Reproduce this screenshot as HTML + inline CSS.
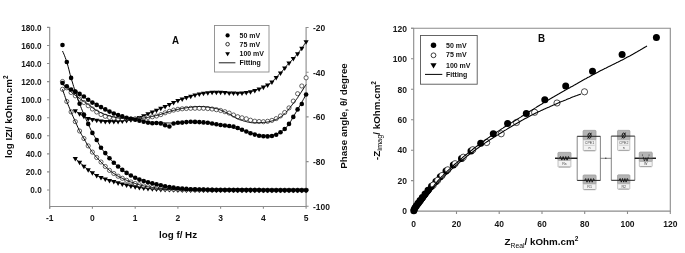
<!DOCTYPE html>
<html><head><meta charset="utf-8"><style>
html,body{margin:0;padding:0;background:#fff;}
svg{display:block;filter:blur(0.3px);font-family:"Liberation Sans",sans-serif;font-weight:bold;}
</style></head><body>
<svg width="685" height="253" viewBox="0 0 685 253">
<rect width="685" height="253" fill="#fff"/>
<g stroke="#8c8c8c" stroke-width="1.1" fill="none">
<path d="M49.7 27V208.8M49.7 206.5H306.1V27"/>
<path d="M413.7 28.3V211.1H670.3V28.3H411"/>
<path d="M47 190H49.7 M47 171.9H49.7 M47 153.9H49.7 M47 135.8H49.7 M47 117.7H49.7 M47 99.7H49.7 M47 81.6H49.7 M47 63.5H49.7 M47 45.5H49.7 M47 27.4H49.7 M306.1 27.5H308.6 M306.1 72.2H308.6 M306.1 116.9H308.6 M306.1 161.6H308.6 M306.1 206.3H308.6 M49.7 206.5V208.8 M92.4 206.5V208.8 M135.2 206.5V208.8 M177.9 206.5V208.8 M220.6 206.5V208.8 M263.4 206.5V208.8 M306.1 206.5V208.8 M411 211.1H413.7 M413.7 211.1V214 M411 180.6H413.7 M456.5 211.1V214 M411 150.2H413.7 M499.2 211.1V214 M411 119.7H413.7 M542 211.1V214 M411 89.3H413.7 M584.7 211.1V214 M411 58.8H413.7 M627.5 211.1V214 M411 28.3H413.7 M670.3 211.1V214"/>
</g>
<g fill="#161616" font-size="8.2" text-anchor="end"><text x="41.7" y="193.4">0.0</text><text x="41.7" y="175.3">20.0</text><text x="41.7" y="157.2">40.0</text><text x="41.7" y="139.2">60.0</text><text x="41.7" y="121.1">80.0</text><text x="41.7" y="103">100.0</text><text x="41.7" y="85">120.0</text><text x="41.7" y="66.9">140.0</text><text x="41.7" y="48.8">160.0</text><text x="41.7" y="30.8">180.0</text></g>
<g fill="#161616" font-size="8.5" text-anchor="start"><text x="312.9" y="30.9">-20</text><text x="312.9" y="75.7">-40</text><text x="312.9" y="120.4">-60</text><text x="312.9" y="165.1">-80</text><text x="312.9" y="209.8">-100</text></g>
<g fill="#161616" font-size="8.5" text-anchor="middle"><text x="49.7" y="221.2">-1</text><text x="92.4" y="221.2">0</text><text x="135.2" y="221.2">1</text><text x="177.9" y="221.2">2</text><text x="220.6" y="221.2">3</text><text x="263.4" y="221.2">4</text><text x="306.1" y="221.2">5</text></g>
<g fill="#161616" font-size="8.5" text-anchor="end"><text x="407" y="214.3">0</text><text x="407" y="183.9">20</text><text x="407" y="153.4">40</text><text x="407" y="123">60</text><text x="407" y="92.5">80</text><text x="407" y="62.1">100</text><text x="407" y="31.6">120</text></g>
<g fill="#161616" font-size="8.5" text-anchor="middle"><text x="413.7" y="226.9">0</text><text x="456.5" y="226.9">20</text><text x="499.2" y="226.9">40</text><text x="542" y="226.9">60</text><text x="584.7" y="226.9">80</text><text x="627.5" y="226.9">100</text><text x="670.3" y="226.9">120</text></g>
<g fill="#000">
<path d="M72.7 157.1H77.9L75.3 161.6Z"/>
<path d="M77 160.8H82.2L79.6 165.3Z"/>
<path d="M81.3 164.7H86.5L83.9 169.2Z"/>
<path d="M85.6 168.3H90.8L88.2 172.8Z"/>
<path d="M89.8 171.3H95L92.4 175.8Z"/>
<path d="M94.1 174H99.3L96.7 178.5Z"/>
<path d="M98.4 175.9H103.6L101 180.4Z"/>
<path d="M102.7 177.5H107.9L105.3 182Z"/>
<path d="M106.9 178.9H112.1L109.5 183.4Z"/>
<path d="M111.2 180.1H116.4L113.8 184.6Z"/>
<path d="M115.5 181.3H120.7L118.1 185.9Z"/>
<path d="M119.7 182.5H124.9L122.3 187Z"/>
<path d="M124 183.5H129.2L126.6 188Z"/>
<path d="M128.3 184.4H133.5L130.9 188.9Z"/>
<path d="M132.6 185.3H137.8L135.2 189.8Z"/>
<path d="M136.8 186H142L139.4 190.5Z"/>
<path d="M141.1 186.6H146.3L143.7 191.1Z"/>
<path d="M145.4 187H150.6L148 191.5Z"/>
<path d="M149.7 187.3H154.9L152.3 191.8Z"/>
<path d="M153.9 187.6H159.1L156.5 192.1Z"/>
<path d="M158.2 187.8H163.4L160.8 192.4Z"/>
<path d="M162.5 188H167.7L165.1 192.5Z"/>
<path d="M166.8 188.1H172L169.4 192.6Z"/>
<path d="M171 188.2H176.2L173.6 192.8Z"/>
<path d="M175.3 188.3H180.5L177.9 192.9Z"/>
<path d="M179.6 188.4H184.8L182.2 192.9Z"/>
<path d="M183.8 188.5H189L186.4 193Z"/>
<path d="M188.1 188.5H193.3L190.7 193Z"/>
<path d="M192.4 188.5H197.6L195 193Z"/>
<path d="M196.7 188.5H201.9L199.3 193Z"/>
<path d="M200.9 188.5H206.1L203.5 193.1Z"/>
<path d="M205.2 188.6H210.4L207.8 193.1Z"/>
<path d="M209.5 188.6H214.7L212.1 193.1Z"/>
<path d="M213.8 188.6H219L216.4 193.1Z"/>
<path d="M218 188.6H223.2L220.6 193.1Z"/>
<path d="M222.3 188.6H227.5L224.9 193.1Z"/>
<path d="M226.6 188.6H231.8L229.2 193.1Z"/>
<path d="M230.9 188.6H236.1L233.5 193.1Z"/>
<path d="M235.1 188.6H240.3L237.7 193.2Z"/>
<path d="M239.4 188.6H244.6L242 193.2Z"/>
<path d="M243.7 188.6H248.9L246.3 193.2Z"/>
<path d="M247.9 188.7H253.1L250.5 193.2Z"/>
<path d="M252.2 188.7H257.4L254.8 193.2Z"/>
<path d="M256.5 188.7H261.7L259.1 193.2Z"/>
<path d="M260.8 188.7H266L263.4 193.2Z"/>
<path d="M265 188.7H270.2L267.6 193.2Z"/>
<path d="M269.3 188.7H274.5L271.9 193.2Z"/>
<path d="M273.6 188.7H278.8L276.2 193.2Z"/>
<path d="M277.9 188.7H283.1L280.5 193.2Z"/>
<path d="M282.1 188.7H287.3L284.7 193.2Z"/>
<path d="M286.4 188.7H291.6L289 193.2Z"/>
<path d="M290.7 188.7H295.9L293.3 193.2Z"/>
<path d="M295 188.7H300.2L297.6 193.2Z"/>
<path d="M299.2 188.7H304.4L301.8 193.2Z"/>
<path d="M303.5 188.7H308.7L306.1 193.2Z"/>
<path d="M72.7 109.3H77.9L75.3 113.8Z"/>
<path d="M77 112.2H82.2L79.6 116.7Z"/>
<path d="M81.3 114.8H86.5L83.9 119.3Z"/>
<path d="M85.6 117H90.8L88.2 121.5Z"/>
<path d="M89.8 118.1H95L92.4 122.6Z"/>
<path d="M94.1 118.8H99.3L96.7 123.3Z"/>
<path d="M98.4 119.5H103.6L101 124Z"/>
<path d="M102.7 119.9H107.9L105.3 124.4Z"/>
<path d="M106.9 120.1H112.1L109.5 124.6Z"/>
<path d="M111.2 120.1H116.4L113.8 124.6Z"/>
<path d="M115.5 119.8H120.7L118.1 124.4Z"/>
<path d="M119.7 119.4H124.9L122.3 123.9Z"/>
<path d="M124 118.9H129.2L126.6 123.4Z"/>
<path d="M128.3 118.2H133.5L130.9 122.7Z"/>
<path d="M132.6 117.3H137.8L135.2 121.8Z"/>
<path d="M136.8 116.1H142L139.4 120.6Z"/>
<path d="M141.1 114.3H146.3L143.7 118.8Z"/>
<path d="M145.4 112.3H150.6L148 116.8Z"/>
<path d="M149.7 110.4H154.9L152.3 114.9Z"/>
<path d="M153.9 108.7H159.1L156.5 113.2Z"/>
<path d="M158.2 106.8H163.4L160.8 111.3Z"/>
<path d="M162.5 105H167.7L165.1 109.5Z"/>
<path d="M166.8 102.9H172L169.4 107.5Z"/>
<path d="M171 101H176.2L173.6 105.6Z"/>
<path d="M175.3 98.9H180.5L177.9 103.5Z"/>
<path d="M179.6 97.5H184.8L182.2 102Z"/>
<path d="M183.8 96.1H189L186.4 100.6Z"/>
<path d="M188.1 94.8H193.3L190.7 99.3Z"/>
<path d="M192.4 93.5H197.6L195 98Z"/>
<path d="M196.7 92.4H201.9L199.3 97Z"/>
<path d="M200.9 91.7H206.1L203.5 96.2Z"/>
<path d="M205.2 91.2H210.4L207.8 95.7Z"/>
<path d="M209.5 90.8H214.7L212.1 95.3Z"/>
<path d="M213.8 90.7H219L216.4 95.2Z"/>
<path d="M218 90.7H223.2L220.6 95.3Z"/>
<path d="M222.3 90.9H227.5L224.9 95.4Z"/>
<path d="M226.6 91.4H231.8L229.2 95.9Z"/>
<path d="M230.9 91.6H236.1L233.5 96.1Z"/>
<path d="M235.1 91.7H240.3L237.7 96.2Z"/>
<path d="M239.4 91.6H244.6L242 96.1Z"/>
<path d="M243.7 91.1H248.9L246.3 95.6Z"/>
<path d="M247.9 90.2H253.1L250.5 94.7Z"/>
<path d="M252.2 89H257.4L254.8 93.5Z"/>
<path d="M256.5 87.6H261.7L259.1 92.1Z"/>
<path d="M260.8 85.6H266L263.4 90.2Z"/>
<path d="M265 83.4H270.2L267.6 87.9Z"/>
<path d="M269.3 80.6H274.5L271.9 85.1Z"/>
<path d="M273.6 75.9H278.8L276.2 80.4Z"/>
<path d="M277.9 71.5H283.1L280.5 76.1Z"/>
<path d="M282.1 66.5H287.3L284.7 71Z"/>
<path d="M286.4 61.6H291.6L289 66.1Z"/>
<path d="M290.7 57.1H295.9L293.3 61.6Z"/>
<path d="M295 52.2H300.2L297.6 56.7Z"/>
<path d="M299.2 46.7H304.4L301.8 51.2Z"/>
<path d="M303.5 40.2H308.7L306.1 44.7Z"/>
<circle cx="62.5" cy="89.3" r="2.0999999999999996" fill="#fff" stroke="#000" stroke-width="0.6"/>
<circle cx="66.8" cy="101.5" r="2.0999999999999996" fill="#fff" stroke="#000" stroke-width="0.6"/>
<circle cx="71.1" cy="111.9" r="2.0999999999999996" fill="#fff" stroke="#000" stroke-width="0.6"/>
<circle cx="75.3" cy="121.6" r="2.0999999999999996" fill="#fff" stroke="#000" stroke-width="0.6"/>
<circle cx="79.6" cy="131" r="2.0999999999999996" fill="#fff" stroke="#000" stroke-width="0.6"/>
<circle cx="83.9" cy="138.5" r="2.0999999999999996" fill="#fff" stroke="#000" stroke-width="0.6"/>
<circle cx="88.2" cy="145.9" r="2.0999999999999996" fill="#fff" stroke="#000" stroke-width="0.6"/>
<circle cx="92.4" cy="152.1" r="2.0999999999999996" fill="#fff" stroke="#000" stroke-width="0.6"/>
<circle cx="96.7" cy="157.5" r="2.0999999999999996" fill="#fff" stroke="#000" stroke-width="0.6"/>
<circle cx="101" cy="162" r="2.0999999999999996" fill="#fff" stroke="#000" stroke-width="0.6"/>
<circle cx="105.3" cy="166.5" r="2.0999999999999996" fill="#fff" stroke="#000" stroke-width="0.6"/>
<circle cx="109.5" cy="170.4" r="2.0999999999999996" fill="#fff" stroke="#000" stroke-width="0.6"/>
<circle cx="113.8" cy="173.5" r="2.0999999999999996" fill="#fff" stroke="#000" stroke-width="0.6"/>
<circle cx="118.1" cy="176.2" r="2.0999999999999996" fill="#fff" stroke="#000" stroke-width="0.6"/>
<circle cx="122.3" cy="178.3" r="2.0999999999999996" fill="#fff" stroke="#000" stroke-width="0.6"/>
<circle cx="126.6" cy="180.3" r="2.0999999999999996" fill="#fff" stroke="#000" stroke-width="0.6"/>
<circle cx="130.9" cy="182" r="2.0999999999999996" fill="#fff" stroke="#000" stroke-width="0.6"/>
<circle cx="135.2" cy="183.5" r="2.0999999999999996" fill="#fff" stroke="#000" stroke-width="0.6"/>
<circle cx="139.4" cy="184.8" r="2.0999999999999996" fill="#fff" stroke="#000" stroke-width="0.6"/>
<circle cx="143.7" cy="185.9" r="2.0999999999999996" fill="#fff" stroke="#000" stroke-width="0.6"/>
<circle cx="148" cy="186.8" r="2.0999999999999996" fill="#fff" stroke="#000" stroke-width="0.6"/>
<circle cx="152.3" cy="187.5" r="2.0999999999999996" fill="#fff" stroke="#000" stroke-width="0.6"/>
<circle cx="156.5" cy="188" r="2.0999999999999996" fill="#fff" stroke="#000" stroke-width="0.6"/>
<circle cx="160.8" cy="188.5" r="2.0999999999999996" fill="#fff" stroke="#000" stroke-width="0.6"/>
<circle cx="165.1" cy="188.8" r="2.0999999999999996" fill="#fff" stroke="#000" stroke-width="0.6"/>
<circle cx="169.4" cy="189.1" r="2.0999999999999996" fill="#fff" stroke="#000" stroke-width="0.6"/>
<circle cx="173.6" cy="189.3" r="2.0999999999999996" fill="#fff" stroke="#000" stroke-width="0.6"/>
<circle cx="177.9" cy="189.5" r="2.0999999999999996" fill="#fff" stroke="#000" stroke-width="0.6"/>
<circle cx="182.2" cy="189.6" r="2.0999999999999996" fill="#fff" stroke="#000" stroke-width="0.6"/>
<circle cx="186.4" cy="189.8" r="2.0999999999999996" fill="#fff" stroke="#000" stroke-width="0.6"/>
<circle cx="190.7" cy="189.8" r="2.0999999999999996" fill="#fff" stroke="#000" stroke-width="0.6"/>
<circle cx="195" cy="189.8" r="2.0999999999999996" fill="#fff" stroke="#000" stroke-width="0.6"/>
<circle cx="199.3" cy="189.9" r="2.0999999999999996" fill="#fff" stroke="#000" stroke-width="0.6"/>
<circle cx="203.5" cy="189.9" r="2.0999999999999996" fill="#fff" stroke="#000" stroke-width="0.6"/>
<circle cx="207.8" cy="189.9" r="2.0999999999999996" fill="#fff" stroke="#000" stroke-width="0.6"/>
<circle cx="212.1" cy="190" r="2.0999999999999996" fill="#fff" stroke="#000" stroke-width="0.6"/>
<circle cx="216.4" cy="190" r="2.0999999999999996" fill="#fff" stroke="#000" stroke-width="0.6"/>
<circle cx="220.6" cy="190" r="2.0999999999999996" fill="#fff" stroke="#000" stroke-width="0.6"/>
<circle cx="224.9" cy="190" r="2.0999999999999996" fill="#fff" stroke="#000" stroke-width="0.6"/>
<circle cx="229.2" cy="190" r="2.0999999999999996" fill="#fff" stroke="#000" stroke-width="0.6"/>
<circle cx="233.5" cy="190.1" r="2.0999999999999996" fill="#fff" stroke="#000" stroke-width="0.6"/>
<circle cx="237.7" cy="190.1" r="2.0999999999999996" fill="#fff" stroke="#000" stroke-width="0.6"/>
<circle cx="242" cy="190.1" r="2.0999999999999996" fill="#fff" stroke="#000" stroke-width="0.6"/>
<circle cx="246.3" cy="190.1" r="2.0999999999999996" fill="#fff" stroke="#000" stroke-width="0.6"/>
<circle cx="250.5" cy="190.1" r="2.0999999999999996" fill="#fff" stroke="#000" stroke-width="0.6"/>
<circle cx="254.8" cy="190.1" r="2.0999999999999996" fill="#fff" stroke="#000" stroke-width="0.6"/>
<circle cx="259.1" cy="190.1" r="2.0999999999999996" fill="#fff" stroke="#000" stroke-width="0.6"/>
<circle cx="263.4" cy="190.2" r="2.0999999999999996" fill="#fff" stroke="#000" stroke-width="0.6"/>
<circle cx="267.6" cy="190.2" r="2.0999999999999996" fill="#fff" stroke="#000" stroke-width="0.6"/>
<circle cx="271.9" cy="190.2" r="2.0999999999999996" fill="#fff" stroke="#000" stroke-width="0.6"/>
<circle cx="276.2" cy="190.2" r="2.0999999999999996" fill="#fff" stroke="#000" stroke-width="0.6"/>
<circle cx="280.5" cy="190.2" r="2.0999999999999996" fill="#fff" stroke="#000" stroke-width="0.6"/>
<circle cx="284.7" cy="190.2" r="2.0999999999999996" fill="#fff" stroke="#000" stroke-width="0.6"/>
<circle cx="289" cy="190.2" r="2.0999999999999996" fill="#fff" stroke="#000" stroke-width="0.6"/>
<circle cx="293.3" cy="190.2" r="2.0999999999999996" fill="#fff" stroke="#000" stroke-width="0.6"/>
<circle cx="297.6" cy="190.2" r="2.0999999999999996" fill="#fff" stroke="#000" stroke-width="0.6"/>
<circle cx="301.8" cy="190.2" r="2.0999999999999996" fill="#fff" stroke="#000" stroke-width="0.6"/>
<circle cx="306.1" cy="190.2" r="2.0999999999999996" fill="#fff" stroke="#000" stroke-width="0.6"/>
<circle cx="62.5" cy="81.5" r="2.0999999999999996" fill="#fff" stroke="#000" stroke-width="0.6"/>
<circle cx="66.8" cy="87.8" r="2.0999999999999996" fill="#fff" stroke="#000" stroke-width="0.6"/>
<circle cx="71.1" cy="92.5" r="2.0999999999999996" fill="#fff" stroke="#000" stroke-width="0.6"/>
<circle cx="75.3" cy="95.8" r="2.0999999999999996" fill="#fff" stroke="#000" stroke-width="0.6"/>
<circle cx="79.6" cy="99" r="2.0999999999999996" fill="#fff" stroke="#000" stroke-width="0.6"/>
<circle cx="83.9" cy="102.5" r="2.0999999999999996" fill="#fff" stroke="#000" stroke-width="0.6"/>
<circle cx="88.2" cy="105.7" r="2.0999999999999996" fill="#fff" stroke="#000" stroke-width="0.6"/>
<circle cx="92.4" cy="109" r="2.0999999999999996" fill="#fff" stroke="#000" stroke-width="0.6"/>
<circle cx="96.7" cy="112" r="2.0999999999999996" fill="#fff" stroke="#000" stroke-width="0.6"/>
<circle cx="101" cy="114.5" r="2.0999999999999996" fill="#fff" stroke="#000" stroke-width="0.6"/>
<circle cx="105.3" cy="116.3" r="2.0999999999999996" fill="#fff" stroke="#000" stroke-width="0.6"/>
<circle cx="109.5" cy="117.5" r="2.0999999999999996" fill="#fff" stroke="#000" stroke-width="0.6"/>
<circle cx="113.8" cy="118.3" r="2.0999999999999996" fill="#fff" stroke="#000" stroke-width="0.6"/>
<circle cx="118.1" cy="118.8" r="2.0999999999999996" fill="#fff" stroke="#000" stroke-width="0.6"/>
<circle cx="122.3" cy="119" r="2.0999999999999996" fill="#fff" stroke="#000" stroke-width="0.6"/>
<circle cx="126.6" cy="119" r="2.0999999999999996" fill="#fff" stroke="#000" stroke-width="0.6"/>
<circle cx="130.9" cy="119" r="2.0999999999999996" fill="#fff" stroke="#000" stroke-width="0.6"/>
<circle cx="135.2" cy="118.8" r="2.0999999999999996" fill="#fff" stroke="#000" stroke-width="0.6"/>
<circle cx="139.4" cy="118.5" r="2.0999999999999996" fill="#fff" stroke="#000" stroke-width="0.6"/>
<circle cx="143.7" cy="118" r="2.0999999999999996" fill="#fff" stroke="#000" stroke-width="0.6"/>
<circle cx="148" cy="117.4" r="2.0999999999999996" fill="#fff" stroke="#000" stroke-width="0.6"/>
<circle cx="152.3" cy="116.8" r="2.0999999999999996" fill="#fff" stroke="#000" stroke-width="0.6"/>
<circle cx="156.5" cy="116" r="2.0999999999999996" fill="#fff" stroke="#000" stroke-width="0.6"/>
<circle cx="160.8" cy="114.6" r="2.0999999999999996" fill="#fff" stroke="#000" stroke-width="0.6"/>
<circle cx="165.1" cy="112.8" r="2.0999999999999996" fill="#fff" stroke="#000" stroke-width="0.6"/>
<circle cx="169.4" cy="111.3" r="2.0999999999999996" fill="#fff" stroke="#000" stroke-width="0.6"/>
<circle cx="173.6" cy="110.1" r="2.0999999999999996" fill="#fff" stroke="#000" stroke-width="0.6"/>
<circle cx="177.9" cy="109.3" r="2.0999999999999996" fill="#fff" stroke="#000" stroke-width="0.6"/>
<circle cx="182.2" cy="108.8" r="2.0999999999999996" fill="#fff" stroke="#000" stroke-width="0.6"/>
<circle cx="186.4" cy="108.5" r="2.0999999999999996" fill="#fff" stroke="#000" stroke-width="0.6"/>
<circle cx="190.7" cy="108.3" r="2.0999999999999996" fill="#fff" stroke="#000" stroke-width="0.6"/>
<circle cx="195" cy="108.3" r="2.0999999999999996" fill="#fff" stroke="#000" stroke-width="0.6"/>
<circle cx="199.3" cy="108.3" r="2.0999999999999996" fill="#fff" stroke="#000" stroke-width="0.6"/>
<circle cx="203.5" cy="108.3" r="2.0999999999999996" fill="#fff" stroke="#000" stroke-width="0.6"/>
<circle cx="207.8" cy="108.6" r="2.0999999999999996" fill="#fff" stroke="#000" stroke-width="0.6"/>
<circle cx="212.1" cy="109" r="2.0999999999999996" fill="#fff" stroke="#000" stroke-width="0.6"/>
<circle cx="216.4" cy="109.7" r="2.0999999999999996" fill="#fff" stroke="#000" stroke-width="0.6"/>
<circle cx="220.6" cy="110.5" r="2.0999999999999996" fill="#fff" stroke="#000" stroke-width="0.6"/>
<circle cx="224.9" cy="111.7" r="2.0999999999999996" fill="#fff" stroke="#000" stroke-width="0.6"/>
<circle cx="229.2" cy="113.1" r="2.0999999999999996" fill="#fff" stroke="#000" stroke-width="0.6"/>
<circle cx="233.5" cy="115" r="2.0999999999999996" fill="#fff" stroke="#000" stroke-width="0.6"/>
<circle cx="237.7" cy="116.7" r="2.0999999999999996" fill="#fff" stroke="#000" stroke-width="0.6"/>
<circle cx="242" cy="117.8" r="2.0999999999999996" fill="#fff" stroke="#000" stroke-width="0.6"/>
<circle cx="246.3" cy="118.8" r="2.0999999999999996" fill="#fff" stroke="#000" stroke-width="0.6"/>
<circle cx="250.5" cy="120.2" r="2.0999999999999996" fill="#fff" stroke="#000" stroke-width="0.6"/>
<circle cx="254.8" cy="121.2" r="2.0999999999999996" fill="#fff" stroke="#000" stroke-width="0.6"/>
<circle cx="259.1" cy="121.5" r="2.0999999999999996" fill="#fff" stroke="#000" stroke-width="0.6"/>
<circle cx="263.4" cy="121.7" r="2.0999999999999996" fill="#fff" stroke="#000" stroke-width="0.6"/>
<circle cx="267.6" cy="121.3" r="2.0999999999999996" fill="#fff" stroke="#000" stroke-width="0.6"/>
<circle cx="271.9" cy="120.4" r="2.0999999999999996" fill="#fff" stroke="#000" stroke-width="0.6"/>
<circle cx="276.2" cy="118.6" r="2.0999999999999996" fill="#fff" stroke="#000" stroke-width="0.6"/>
<circle cx="280.5" cy="115.9" r="2.0999999999999996" fill="#fff" stroke="#000" stroke-width="0.6"/>
<circle cx="284.7" cy="112.5" r="2.0999999999999996" fill="#fff" stroke="#000" stroke-width="0.6"/>
<circle cx="289" cy="107.9" r="2.0999999999999996" fill="#fff" stroke="#000" stroke-width="0.6"/>
<circle cx="293.3" cy="101.1" r="2.0999999999999996" fill="#fff" stroke="#000" stroke-width="0.6"/>
<circle cx="297.6" cy="93.7" r="2.0999999999999996" fill="#fff" stroke="#000" stroke-width="0.6"/>
<circle cx="301.8" cy="86" r="2.0999999999999996" fill="#fff" stroke="#000" stroke-width="0.6"/>
<circle cx="306.1" cy="77.8" r="2.0999999999999996" fill="#fff" stroke="#000" stroke-width="0.6"/>
<circle cx="62.5" cy="45" r="2.3"/>
<circle cx="66.8" cy="62" r="2.3"/>
<circle cx="71.1" cy="77.9" r="2.3"/>
<circle cx="75.3" cy="91.6" r="2.3"/>
<circle cx="79.6" cy="103.7" r="2.3"/>
<circle cx="83.9" cy="114.5" r="2.3"/>
<circle cx="88.2" cy="123.9" r="2.3"/>
<circle cx="92.4" cy="132.9" r="2.3"/>
<circle cx="96.7" cy="140" r="2.3"/>
<circle cx="101" cy="147.7" r="2.3"/>
<circle cx="105.3" cy="153.1" r="2.3"/>
<circle cx="109.5" cy="158.2" r="2.3"/>
<circle cx="113.8" cy="162.8" r="2.3"/>
<circle cx="118.1" cy="166.5" r="2.3"/>
<circle cx="122.3" cy="169.9" r="2.3"/>
<circle cx="126.6" cy="172.9" r="2.3"/>
<circle cx="130.9" cy="175.5" r="2.3"/>
<circle cx="135.2" cy="177.8" r="2.3"/>
<circle cx="139.4" cy="179.6" r="2.3"/>
<circle cx="143.7" cy="181" r="2.3"/>
<circle cx="148" cy="182.3" r="2.3"/>
<circle cx="152.3" cy="183.3" r="2.3"/>
<circle cx="156.5" cy="184.3" r="2.3"/>
<circle cx="160.8" cy="185.3" r="2.3"/>
<circle cx="165.1" cy="186.2" r="2.3"/>
<circle cx="169.4" cy="187" r="2.3"/>
<circle cx="173.6" cy="187.6" r="2.3"/>
<circle cx="177.9" cy="188.2" r="2.3"/>
<circle cx="182.2" cy="188.6" r="2.3"/>
<circle cx="186.4" cy="188.9" r="2.3"/>
<circle cx="190.7" cy="189.2" r="2.3"/>
<circle cx="195" cy="189.4" r="2.3"/>
<circle cx="199.3" cy="189.5" r="2.3"/>
<circle cx="203.5" cy="189.6" r="2.3"/>
<circle cx="207.8" cy="189.8" r="2.3"/>
<circle cx="212.1" cy="189.9" r="2.3"/>
<circle cx="216.4" cy="190" r="2.3"/>
<circle cx="220.6" cy="190" r="2.3"/>
<circle cx="224.9" cy="190" r="2.3"/>
<circle cx="229.2" cy="190" r="2.3"/>
<circle cx="233.5" cy="190.1" r="2.3"/>
<circle cx="237.7" cy="190.1" r="2.3"/>
<circle cx="242" cy="190.1" r="2.3"/>
<circle cx="246.3" cy="190.1" r="2.3"/>
<circle cx="250.5" cy="190.1" r="2.3"/>
<circle cx="254.8" cy="190.1" r="2.3"/>
<circle cx="259.1" cy="190.1" r="2.3"/>
<circle cx="263.4" cy="190.2" r="2.3"/>
<circle cx="267.6" cy="190.2" r="2.3"/>
<circle cx="271.9" cy="190.2" r="2.3"/>
<circle cx="276.2" cy="190.2" r="2.3"/>
<circle cx="280.5" cy="190.2" r="2.3"/>
<circle cx="284.7" cy="190.2" r="2.3"/>
<circle cx="289" cy="190.2" r="2.3"/>
<circle cx="293.3" cy="190.2" r="2.3"/>
<circle cx="297.6" cy="190.2" r="2.3"/>
<circle cx="301.8" cy="190.2" r="2.3"/>
<circle cx="306.1" cy="190.2" r="2.3"/>
<circle cx="62.5" cy="83" r="2.3"/>
<circle cx="66.8" cy="86.3" r="2.3"/>
<circle cx="71.1" cy="89.5" r="2.3"/>
<circle cx="75.3" cy="91.8" r="2.3"/>
<circle cx="79.6" cy="93.9" r="2.3"/>
<circle cx="83.9" cy="96.5" r="2.3"/>
<circle cx="88.2" cy="99.8" r="2.3"/>
<circle cx="92.4" cy="102.6" r="2.3"/>
<circle cx="96.7" cy="104.9" r="2.3"/>
<circle cx="101" cy="107.1" r="2.3"/>
<circle cx="105.3" cy="109.4" r="2.3"/>
<circle cx="109.5" cy="111.6" r="2.3"/>
<circle cx="113.8" cy="113.5" r="2.3"/>
<circle cx="118.1" cy="115" r="2.3"/>
<circle cx="122.3" cy="116.4" r="2.3"/>
<circle cx="126.6" cy="117.7" r="2.3"/>
<circle cx="130.9" cy="118.8" r="2.3"/>
<circle cx="135.2" cy="119.8" r="2.3"/>
<circle cx="139.4" cy="120.8" r="2.3"/>
<circle cx="143.7" cy="121.8" r="2.3"/>
<circle cx="148" cy="122.6" r="2.3"/>
<circle cx="152.3" cy="123.2" r="2.3"/>
<circle cx="156.5" cy="123" r="2.3"/>
<circle cx="160.8" cy="123.4" r="2.3"/>
<circle cx="165.1" cy="125.3" r="2.3"/>
<circle cx="169.4" cy="126.5" r="2.3"/>
<circle cx="173.6" cy="123.5" r="2.3"/>
<circle cx="177.9" cy="122.8" r="2.3"/>
<circle cx="182.2" cy="122.6" r="2.3"/>
<circle cx="186.4" cy="122.1" r="2.3"/>
<circle cx="190.7" cy="121.8" r="2.3"/>
<circle cx="195" cy="121.9" r="2.3"/>
<circle cx="199.3" cy="122.1" r="2.3"/>
<circle cx="203.5" cy="122.4" r="2.3"/>
<circle cx="207.8" cy="122.8" r="2.3"/>
<circle cx="212.1" cy="123.5" r="2.3"/>
<circle cx="216.4" cy="124.3" r="2.3"/>
<circle cx="220.6" cy="125" r="2.3"/>
<circle cx="224.9" cy="125.5" r="2.3"/>
<circle cx="229.2" cy="126" r="2.3"/>
<circle cx="233.5" cy="126.6" r="2.3"/>
<circle cx="237.7" cy="128" r="2.3"/>
<circle cx="242" cy="129.8" r="2.3"/>
<circle cx="246.3" cy="131.5" r="2.3"/>
<circle cx="250.5" cy="133.2" r="2.3"/>
<circle cx="254.8" cy="134.6" r="2.3"/>
<circle cx="259.1" cy="135.7" r="2.3"/>
<circle cx="263.4" cy="136.2" r="2.3"/>
<circle cx="267.6" cy="136.4" r="2.3"/>
<circle cx="271.9" cy="136" r="2.3"/>
<circle cx="276.2" cy="134.7" r="2.3"/>
<circle cx="280.5" cy="132.3" r="2.3"/>
<circle cx="284.7" cy="129" r="2.3"/>
<circle cx="289" cy="123.9" r="2.3"/>
<circle cx="293.3" cy="116.9" r="2.3"/>
<circle cx="297.6" cy="109.4" r="2.3"/>
<circle cx="301.8" cy="104" r="2.3"/>
<circle cx="306.1" cy="94.5" r="2.3"/>
</g>
<g fill="none" stroke="#000" stroke-width="1">
<polyline points="62.5,51 63.2,52.5 63.9,54.1 64.6,55.8 65.3,57.7 66,59.6 66.7,61.7 67.4,63.9 68.1,66.5 68.8,69.2 69.5,72 70.2,74.7 70.9,77.3 71.6,79.7 72.3,82 73,84.3 73.7,86.6 74.4,88.8 75.1,90.9 75.8,93 76.5,95.1 77.2,97.1 77.9,99.1 78.6,101 79.3,102.9 80,104.8 80.7,106.6 81.4,108.4 82.1,110.1 82.8,111.9 83.5,113.6 84.2,115.2 84.9,116.8 85.6,118.4 86.3,119.9 87,121.4 87.7,122.9 88.4,124.4 89.1,126 89.8,127.5 90.5,129 91.2,130.4 91.9,131.8 92.6,133.2 93.3,134.4 94,135.6 94.7,136.7 95.4,137.8 96.1,139 96.8,140.2 97.5,141.4 98.2,142.8 98.9,144.1 99.6,145.4 100.3,146.6 101,147.7 101.7,148.7 102.4,149.6 103.1,150.5 103.8,151.3 104.5,152.2 105.2,153 105.9,153.9 106.6,154.7 107.3,155.6 108,156.4 108.7,157.3 109.4,158.1 110.1,158.9 110.8,159.7 111.5,160.4 112.2,161.2 112.9,161.9 113.6,162.6 114.3,163.3 115,163.9 115.7,164.5 116.4,165.1 117.1,165.7 117.8,166.3 118.5,166.8 119.2,167.4 119.9,168 120.6,168.6 121.3,169.1 122,169.7 122.7,170.2 123.4,170.7 124.1,171.2 124.8,171.7 125.5,172.2 126.2,172.6 126.9,173.1 127.6,173.5 128.3,174 129,174.4 129.7,174.8 130.4,175.2 131.1,175.6 131.8,176 132.5,176.4 133.2,176.8 133.9,177.2 134.6,177.5 135.3,177.8 136,178.2 136.7,178.5 137.4,178.8 138.1,179.1 138.8,179.4 139.5,179.6 140.2,179.9 140.9,180.1 141.6,180.3 142.3,180.6 143,180.8 143.7,181 144.4,181.2 145.1,181.4 145.8,181.7 146.5,181.9 147.2,182.1 147.9,182.3 148.6,182.5 149.3,182.6 150,182.8 150.7,183 151.4,183.1 152.1,183.3 152.8,183.5 153.5,183.6 154.2,183.8 154.9,183.9 155.6,184.1 156.3,184.3 157,184.4 157.7,184.6 158.4,184.7 159.1,184.9 159.8,185.1 160.5,185.2 161.2,185.4 161.9,185.6 162.6,185.7 163.3,185.9 164,186 164.7,186.1 165.4,186.3 166.1,186.4 166.8,186.5 167.5,186.6 168.2,186.8 168.9,186.9 169.6,187 170.3,187.1 171,187.2 171.7,187.3 172.4,187.4 173.1,187.6 173.8,187.7 174.5,187.8 175.2,187.9 175.9,188 176.6,188 177.3,188.1 178,188.2 178.7,188.3 179.4,188.4 180.1,188.4 180.8,188.5 181.5,188.6 182.2,188.6 182.9,188.7 183.6,188.7 184.3,188.8 185,188.8 185.7,188.9 186.4,188.9 187.1,189 187.8,189 188.5,189 189.2,189.1 189.9,189.1 190.6,189.1 191.3,189.2 192,189.2 192.7,189.3 193.4,189.3 194.1,189.3 194.8,189.3 195.5,189.4 196.2,189.4 196.9,189.4 197.6,189.5 198.3,189.5 199,189.5 199.7,189.5 200.4,189.5 201.1,189.6 201.8,189.6 202.5,189.6 203.2,189.6 203.9,189.7 204.6,189.7 205.3,189.7 206,189.7 206.7,189.7 207.4,189.8 208.1,189.8 208.8,189.8 209.5,189.8 210.2,189.8 210.9,189.9 211.6,189.9 212.3,189.9 213,189.9 213.7,189.9 214.4,189.9 215.1,189.9 215.8,190 216.5,190 217.2,190 217.9,190 218.6,190 219.3,190 220,190 220.7,190 221.4,190 222.1,190 222.8,190 223.5,190 224.2,190 224.9,190 225.6,190 226.3,190 227,190 227.7,190 228.4,190 229.1,190 229.8,190 230.5,190 231.2,190.1 231.9,190.1 232.6,190.1 233.3,190.1 234,190.1 234.7,190.1 235.4,190.1 236.1,190.1 236.8,190.1 237.5,190.1 238.2,190.1 238.9,190.1 239.6,190.1 240.3,190.1 241,190.1 241.7,190.1 242.4,190.1 243.1,190.1 243.8,190.1 244.5,190.1 245.2,190.1 245.9,190.1 246.6,190.1 247.3,190.1 248,190.1 248.7,190.1 249.4,190.1 250.1,190.1 250.8,190.1 251.5,190.1 252.2,190.1 252.9,190.1 253.6,190.1 254.3,190.1 255,190.1 255.7,190.1 256.4,190.1 257.1,190.1 257.8,190.1 258.5,190.1 259.2,190.1 259.9,190.1 260.6,190.1 261.3,190.2 262,190.2 262.7,190.2 263.4,190.2 264.1,190.2 264.8,190.2 265.5,190.2 266.2,190.2 266.9,190.2 267.6,190.2 268.3,190.2 269,190.2 269.7,190.2 270.4,190.2 271.1,190.2 271.8,190.2 272.5,190.2 273.2,190.2 273.9,190.2 274.6,190.2 275.3,190.2 276,190.2 276.7,190.2 277.4,190.2 278.1,190.2 278.8,190.2 279.5,190.2 280.2,190.2 280.9,190.2 281.6,190.2 282.3,190.2 283,190.2 283.7,190.2 284.4,190.2 285.1,190.2 285.8,190.2 286.5,190.2 287.2,190.2 287.9,190.2 288.6,190.2 289.3,190.2 290,190.2 290.7,190.2 291.4,190.2 292.1,190.2 292.8,190.2 293.5,190.2 294.2,190.2 294.9,190.2 295.6,190.2 296.3,190.2 297,190.2 297.7,190.2 298.4,190.2 299.1,190.2 299.8,190.2 300.5,190.2 301.2,190.2 301.9,190.2 302.6,190.2 303.3,190.2 304,190.2 304.7,190.2 305.4,190.2 306.1,190.2"/><polyline points="62.5,89.2 63.2,91.3 63.9,93.4 64.6,95.4 65.3,97.4 66,99.4 66.7,101.2 67.4,103.1 68.1,104.8 68.8,106.5 69.5,108.2 70.2,109.9 70.9,111.5 71.6,113.2 72.3,114.8 73,116.4 73.7,117.9 74.4,119.5 75.1,121.1 75.8,122.6 76.5,124.2 77.2,125.8 77.9,127.4 78.6,128.9 79.3,130.4 80,131.8 80.7,133 81.4,134.3 82.1,135.5 82.8,136.6 83.5,137.8 84.2,139 84.9,140.3 85.6,141.5 86.3,142.8 87,144 87.7,145.2 88.4,146.3 89.1,147.4 89.8,148.4 90.5,149.5 91.2,150.5 91.9,151.4 92.6,152.4 93.3,153.3 94,154.2 94.7,155.1 95.4,156 96.1,156.8 96.8,157.6 97.5,158.4 98.2,159.1 98.9,159.9 99.6,160.6 100.3,161.3 101,162 101.7,162.7 102.4,163.5 103.1,164.2 103.8,165 104.5,165.7 105.2,166.4 105.9,167.1 106.6,167.8 107.3,168.4 108,169.1 108.7,169.7 109.4,170.3 110.1,170.9 110.8,171.4 111.5,171.9 112.2,172.4 112.9,172.9 113.6,173.4 114.3,173.8 115,174.3 115.7,174.8 116.4,175.2 117.1,175.6 117.8,176 118.5,176.4 119.2,176.8 119.9,177.1 120.6,177.5 121.3,177.8 122,178.2 122.7,178.5 123.4,178.8 124.1,179.2 124.8,179.5 125.5,179.8 126.2,180.1 126.9,180.4 127.6,180.7 128.3,181 129,181.3 129.7,181.6 130.4,181.8 131.1,182.1 131.8,182.3 132.5,182.6 133.2,182.8 133.9,183.1 134.6,183.3 135.3,183.5 136,183.8 136.7,184 137.4,184.2 138.1,184.4 138.8,184.6 139.5,184.8 140.2,185 140.9,185.2 141.6,185.4 142.3,185.6 143,185.7 143.7,185.9 144.4,186.1 145.1,186.2 145.8,186.4 146.5,186.5 147.2,186.7 147.9,186.8 148.6,186.9 149.3,187 150,187.1 150.7,187.2 151.4,187.3 152.1,187.4 152.8,187.5 153.5,187.6 154.2,187.7 154.9,187.8 155.6,187.9 156.3,188 157,188.1 157.7,188.2 158.4,188.2 159.1,188.3 159.8,188.4 160.5,188.4 161.2,188.5 161.9,188.6 162.6,188.6 163.3,188.7 164,188.7 164.7,188.8 165.4,188.8 166.1,188.9 166.8,188.9 167.5,189 168.2,189 168.9,189 169.6,189.1 170.3,189.1 171,189.2 171.7,189.2 172.4,189.2 173.1,189.3 173.8,189.3 174.5,189.3 175.2,189.4 175.9,189.4 176.6,189.4 177.3,189.5 178,189.5 178.7,189.5 179.4,189.5 180.1,189.6 180.8,189.6 181.5,189.6 182.2,189.6 182.9,189.7 183.6,189.7 184.3,189.7 185,189.7 185.7,189.7 186.4,189.8 187.1,189.8 187.8,189.8 188.5,189.8 189.2,189.8 189.9,189.8 190.6,189.8 191.3,189.8 192,189.8 192.7,189.8 193.4,189.8 194.1,189.8 194.8,189.8 195.5,189.8 196.2,189.8 196.9,189.9 197.6,189.9 198.3,189.9 199,189.9 199.7,189.9 200.4,189.9 201.1,189.9 201.8,189.9 202.5,189.9 203.2,189.9 203.9,189.9 204.6,189.9 205.3,189.9 206,189.9 206.7,189.9 207.4,189.9 208.1,189.9 208.8,189.9 209.5,189.9 210.2,189.9 210.9,189.9 211.6,189.9 212.3,190 213,190 213.7,190 214.4,190 215.1,190 215.8,190 216.5,190 217.2,190 217.9,190 218.6,190 219.3,190 220,190 220.7,190 221.4,190 222.1,190 222.8,190 223.5,190 224.2,190 224.9,190 225.6,190 226.3,190 227,190 227.7,190 228.4,190 229.1,190 229.8,190 230.5,190 231.2,190 231.9,190.1 232.6,190.1 233.3,190.1 234,190.1 234.7,190.1 235.4,190.1 236.1,190.1 236.8,190.1 237.5,190.1 238.2,190.1 238.9,190.1 239.6,190.1 240.3,190.1 241,190.1 241.7,190.1 242.4,190.1 243.1,190.1 243.8,190.1 244.5,190.1 245.2,190.1 245.9,190.1 246.6,190.1 247.3,190.1 248,190.1 248.7,190.1 249.4,190.1 250.1,190.1 250.8,190.1 251.5,190.1 252.2,190.1 252.9,190.1 253.6,190.1 254.3,190.1 255,190.1 255.7,190.1 256.4,190.1 257.1,190.1 257.8,190.1 258.5,190.1 259.2,190.1 259.9,190.1 260.6,190.1 261.3,190.1 262,190.2 262.7,190.2 263.4,190.2 264.1,190.2 264.8,190.2 265.5,190.2 266.2,190.2 266.9,190.2 267.6,190.2 268.3,190.2 269,190.2 269.7,190.2 270.4,190.2 271.1,190.2 271.8,190.2 272.5,190.2 273.2,190.2 273.9,190.2 274.6,190.2 275.3,190.2 276,190.2 276.7,190.2 277.4,190.2 278.1,190.2 278.8,190.2 279.5,190.2 280.2,190.2 280.9,190.2 281.6,190.2 282.3,190.2 283,190.2 283.7,190.2 284.4,190.2 285.1,190.2 285.8,190.2 286.5,190.2 287.2,190.2 287.9,190.2 288.6,190.2 289.3,190.2 290,190.2 290.7,190.2 291.4,190.2 292.1,190.2 292.8,190.2 293.5,190.2 294.2,190.2 294.9,190.2 295.6,190.2 296.3,190.2 297,190.2 297.7,190.2 298.4,190.2 299.1,190.2 299.8,190.2 300.5,190.2 301.2,190.2 301.9,190.2 302.6,190.2 303.3,190.2 304,190.2 304.7,190.2 305.4,190.2 306.1,190.2"/><polyline points="75.3,158.6 76,159.2 76.7,159.8 77.4,160.4 78.1,161 78.8,161.6 79.5,162.2 80.2,162.8 80.9,163.5 81.6,164.1 82.3,164.8 83,165.4 83.7,166 84.4,166.6 85.1,167.2 85.8,167.8 86.5,168.4 87.2,169 87.9,169.6 88.6,170.1 89.3,170.6 90,171.1 90.7,171.6 91.4,172.1 92.1,172.6 92.8,173.1 93.5,173.5 94.2,174 94.9,174.5 95.6,174.9 96.3,175.3 97,175.7 97.7,176 98.4,176.3 99.1,176.6 99.8,176.9 100.5,177.2 101.2,177.5 101.9,177.8 102.6,178 103.3,178.3 104,178.6 104.7,178.8 105.4,179.1 106.1,179.3 106.8,179.5 107.5,179.8 108.2,180 108.9,180.2 109.6,180.4 110.3,180.6 111,180.8 111.7,181 112.4,181.2 113.1,181.4 113.8,181.6 114.5,181.8 115.2,182 115.9,182.2 116.6,182.4 117.3,182.6 118,182.8 118.7,183 119.4,183.2 120.1,183.4 120.8,183.6 121.5,183.8 122.2,184 122.9,184.1 123.6,184.3 124.3,184.5 125,184.6 125.7,184.8 126.4,185 127.1,185.1 127.8,185.3 128.5,185.4 129.2,185.6 129.9,185.7 130.6,185.8 131.3,186 132,186.1 132.7,186.3 133.4,186.4 134.1,186.6 134.8,186.7 135.5,186.8 136.2,187 136.9,187.1 137.6,187.2 138.3,187.3 139,187.4 139.7,187.5 140.4,187.6 141.1,187.7 141.8,187.8 142.5,187.9 143.2,188 143.9,188.1 144.6,188.2 145.3,188.2 146,188.3 146.7,188.4 147.4,188.4 148.1,188.5 148.8,188.6 149.5,188.6 150.2,188.7 150.9,188.7 151.6,188.8 152.3,188.8 153,188.9 153.7,188.9 154.4,189 155.1,189 155.8,189.1 156.5,189.1 157.2,189.1 157.9,189.2 158.6,189.2 159.3,189.3 160,189.3 160.7,189.3 161.4,189.4 162.1,189.4 162.8,189.4 163.5,189.4 164.2,189.5 164.9,189.5 165.6,189.5 166.3,189.5 167,189.6 167.7,189.6 168.4,189.6 169.1,189.6 169.8,189.6 170.5,189.7 171.2,189.7 171.9,189.7 172.6,189.7 173.3,189.7 174,189.8 174.7,189.8 175.4,189.8 176.1,189.8 176.8,189.8 177.5,189.8 178.2,189.8 178.9,189.9 179.6,189.9 180.3,189.9 181,189.9 181.7,189.9 182.4,189.9 183.1,189.9 183.8,189.9 184.5,190 185.2,190 185.9,190 186.6,190 187.3,190 188,190 188.7,190 189.4,190 190.1,190 190.8,190 191.5,190 192.2,190 192.9,190 193.6,190 194.3,190 195,190 195.7,190 196.4,190 197.1,190 197.8,190 198.5,190 199.2,190 199.9,190 200.6,190 201.3,190 202,190 202.7,190 203.4,190 204.1,190.1 204.8,190.1 205.5,190.1 206.2,190.1 206.9,190.1 207.6,190.1 208.3,190.1 209,190.1 209.7,190.1 210.4,190.1 211.1,190.1 211.8,190.1 212.5,190.1 213.2,190.1 213.9,190.1 214.6,190.1 215.3,190.1 216,190.1 216.7,190.1 217.4,190.1 218.1,190.1 218.8,190.1 219.5,190.1 220.2,190.1 220.9,190.1 221.6,190.1 222.3,190.1 223,190.1 223.7,190.1 224.4,190.1 225.1,190.1 225.8,190.1 226.5,190.1 227.2,190.1 227.9,190.1 228.6,190.1 229.3,190.1 230,190.1 230.7,190.1 231.4,190.1 232.1,190.1 232.8,190.1 233.5,190.1 234.2,190.1 234.9,190.1 235.6,190.1 236.3,190.1 237,190.1 237.7,190.1 238.4,190.1 239.1,190.1 239.8,190.1 240.5,190.1 241.2,190.1 241.9,190.1 242.6,190.1 243.3,190.1 244,190.1 244.7,190.2 245.4,190.2 246.1,190.2 246.8,190.2 247.5,190.2 248.2,190.2 248.9,190.2 249.6,190.2 250.3,190.2 251,190.2 251.7,190.2 252.4,190.2 253.1,190.2 253.8,190.2 254.5,190.2 255.2,190.2 255.9,190.2 256.6,190.2 257.3,190.2 258,190.2 258.7,190.2 259.4,190.2 260.1,190.2 260.8,190.2 261.5,190.2 262.2,190.2 262.9,190.2 263.6,190.2 264.3,190.2 265,190.2 265.7,190.2 266.4,190.2 267.1,190.2 267.8,190.2 268.5,190.2 269.2,190.2 269.9,190.2 270.6,190.2 271.3,190.2 272,190.2 272.7,190.2 273.4,190.2 274.1,190.2 274.8,190.2 275.5,190.2 276.2,190.2 276.9,190.2 277.6,190.2 278.3,190.2 279,190.2 279.7,190.2 280.4,190.2 281.1,190.2 281.8,190.2 282.5,190.2 283.2,190.2 283.9,190.2 284.6,190.2 285.3,190.2 286,190.2 286.7,190.2 287.4,190.2 288.1,190.2 288.8,190.2 289.5,190.2 290.2,190.2 290.9,190.2 291.6,190.2 292.3,190.2 293,190.2 293.7,190.2 294.4,190.2 295.1,190.2 295.8,190.2 296.5,190.2 297.2,190.2 297.9,190.2 298.6,190.2 299.3,190.2 300,190.2 300.7,190.2 301.4,190.2 302.1,190.2 302.8,190.2 303.5,190.2 304.2,190.2 304.9,190.2 305.6,190.2"/><polyline points="62.5,84 63.2,84.5 63.9,85 64.6,85.4 65.3,85.9 66,86.4 66.7,86.8 67.4,87.3 68.1,87.7 68.8,88.1 69.5,88.6 70.2,89 70.9,89.4 71.6,89.8 72.3,90.2 73,90.5 73.7,90.9 74.4,91.3 75.1,91.6 75.8,92 76.5,92.3 77.2,92.7 77.9,93 78.6,93.4 79.3,93.8 80,94.2 80.7,94.7 81.4,95.1 82.1,95.6 82.8,96.1 83.5,96.6 84.2,97.1 84.9,97.6 85.6,98.1 86.3,98.5 87,99 87.7,99.5 88.4,99.9 89.1,100.4 89.8,100.8 90.5,101.2 91.2,101.7 91.9,102.1 92.6,102.5 93.3,102.9 94,103.3 94.7,103.8 95.4,104.2 96.1,104.6 96.8,105 97.5,105.3 98.2,105.7 98.9,106.1 99.6,106.5 100.3,106.9 101,107.2 101.7,107.6 102.4,108 103.1,108.3 103.8,108.7 104.5,109 105.2,109.4 105.9,109.8 106.6,110.1 107.3,110.5 108,110.8 108.7,111.2 109.4,111.5 110.1,111.9 110.8,112.2 111.5,112.5 112.2,112.8 112.9,113.1 113.6,113.4 114.3,113.7 115,114 115.7,114.2 116.4,114.5 117.1,114.7 117.8,115 118.5,115.2 119.2,115.5 119.9,115.7 120.6,115.9 121.3,116.1 122,116.3 122.7,116.5 123.4,116.7 124.1,116.9 124.8,117.1 125.5,117.3 126.2,117.5 126.9,117.7 127.6,117.9 128.3,118.1 129,118.3 129.7,118.4 130.4,118.6 131.1,118.8 131.8,119 132.5,119.1 133.2,119.3 133.9,119.4 134.6,119.6 135.3,119.7 136,119.9 136.7,120 137.4,120.2 138.1,120.3 138.8,120.4 139.5,120.5 140.2,120.6 140.9,120.7 141.6,120.8 142.3,120.9 143,121.1 143.7,121.2 144.4,121.3 145.1,121.4 145.8,121.5 146.5,121.5 147.2,121.6 147.9,121.7 148.6,121.8 149.3,121.9 150,122 150.7,122.1 151.4,122.1 152.1,122.2 152.8,122.3 153.5,122.3 154.2,122.4 154.9,122.4 155.6,122.5 156.3,122.5 157,122.5 157.7,122.6 158.4,122.6 159.1,122.6 159.8,122.6 160.5,122.7 161.2,122.7 161.9,122.7 162.6,122.8 163.3,122.8 164,122.8 164.7,122.8 165.4,122.9 166.1,122.9 166.8,122.9 167.5,122.9 168.2,122.9 168.9,123 169.6,123 170.3,123 171,123 171.7,123 172.4,123 173.1,123 173.8,123 174.5,123 175.2,123 175.9,123 176.6,122.9 177.3,122.9 178,122.9 178.7,122.8 179.4,122.8 180.1,122.7 180.8,122.7 181.5,122.7 182.2,122.6 182.9,122.6 183.6,122.5 184.3,122.5 185,122.4 185.7,122.4 186.4,122.3 187.1,122.3 187.8,122.3 188.5,122.2 189.2,122.2 189.9,122.2 190.6,122.2 191.3,122.2 192,122.2 192.7,122.2 193.4,122.2 194.1,122.2 194.8,122.3 195.5,122.3 196.2,122.3 196.9,122.3 197.6,122.4 198.3,122.4 199,122.4 199.7,122.5 200.4,122.5 201.1,122.6 201.8,122.6 202.5,122.6 203.2,122.7 203.9,122.7 204.6,122.8 205.3,122.8 206,122.9 206.7,122.9 207.4,123 208.1,123.1 208.8,123.1 209.5,123.2 210.2,123.3 210.9,123.4 211.6,123.5 212.3,123.6 213,123.7 213.7,123.8 214.4,123.9 215.1,124 215.8,124.1 216.5,124.2 217.2,124.4 217.9,124.5 218.6,124.6 219.3,124.7 220,124.8 220.7,125 221.4,125.1 222.1,125.2 222.8,125.3 223.5,125.5 224.2,125.6 224.9,125.8 225.6,125.9 226.3,126.1 227,126.2 227.7,126.4 228.4,126.5 229.1,126.7 229.8,126.9 230.5,127 231.2,127.2 231.9,127.4 232.6,127.6 233.3,127.8 234,127.9 234.7,128.1 235.4,128.3 236.1,128.5 236.8,128.7 237.5,128.9 238.2,129.1 238.9,129.2 239.6,129.4 240.3,129.6 241,129.8 241.7,130 242.4,130.2 243.1,130.4 243.8,130.5 244.5,130.7 245.2,130.9 245.9,131.1 246.6,131.4 247.3,131.6 248,131.8 248.7,132 249.4,132.3 250.1,132.5 250.8,132.8 251.5,133 252.2,133.2 252.9,133.5 253.6,133.7 254.3,133.9 255,134.1 255.7,134.3 256.4,134.5 257.1,134.6 257.8,134.8 258.5,134.9 259.2,135 259.9,135.1 260.6,135.2 261.3,135.2 262,135.3 262.7,135.3 263.4,135.3 264.1,135.4 264.8,135.4 265.5,135.4 266.2,135.4 266.9,135.5 267.6,135.5 268.3,135.5 269,135.5 269.7,135.5 270.4,135.5 271.1,135.4 271.8,135.4 272.5,135.2 273.2,135.1 273.9,134.9 274.6,134.7 275.3,134.4 276,134.2 276.7,133.9 277.4,133.7 278.1,133.4 278.8,133.1 279.5,132.8 280.2,132.4 280.9,132 281.6,131.5 282.3,131 283,130.4 283.7,129.9 284.4,129.2 285.1,128.6 285.8,127.9 286.5,127.1 287.2,126.3 287.9,125.4 288.6,124.5 289.3,123.5 290,122.5 290.7,121.4 291.4,120.2 292.1,119 292.8,117.7 293.5,116.5 294.2,115.3 294.9,114.1 295.6,112.9 296.3,111.7 297,110.5 297.7,109.3 298.4,108.2 299.1,107 299.8,105.8 300.5,104.6 301.2,103.3 301.9,102.1 302.6,100.8 303.3,99.5 304,98.3 304.7,96.9 305.4,95.6 306.1,94.3"/><polyline points="62.5,84 63.2,84.7 63.9,85.4 64.6,86.1 65.3,86.8 66,87.4 66.7,88.1 67.4,88.7 68.1,89.4 68.8,90 69.5,90.6 70.2,91.2 70.9,91.8 71.6,92.4 72.3,93 73,93.5 73.7,94.1 74.4,94.6 75.1,95.2 75.8,95.7 76.5,96.2 77.2,96.7 77.9,97.3 78.6,97.8 79.3,98.3 80,98.8 80.7,99.3 81.4,99.8 82.1,100.3 82.8,100.8 83.5,101.3 84.2,101.7 84.9,102.2 85.6,102.7 86.3,103.2 87,103.7 87.7,104.2 88.4,104.6 89.1,105.1 89.8,105.7 90.5,106.2 91.2,106.7 91.9,107.2 92.6,107.8 93.3,108.3 94,108.8 94.7,109.3 95.4,109.7 96.1,110.1 96.8,110.6 97.5,110.9 98.2,111.3 98.9,111.7 99.6,112.1 100.3,112.4 101,112.8 101.7,113.1 102.4,113.4 103.1,113.7 103.8,114 104.5,114.3 105.2,114.5 105.9,114.7 106.6,114.9 107.3,115.2 108,115.4 108.7,115.6 109.4,115.8 110.1,116 110.8,116.3 111.5,116.5 112.2,116.7 112.9,116.8 113.6,117 114.3,117.2 115,117.4 115.7,117.5 116.4,117.7 117.1,117.8 117.8,117.9 118.5,118 119.2,118.1 119.9,118.2 120.6,118.2 121.3,118.3 122,118.3 122.7,118.3 123.4,118.3 124.1,118.3 124.8,118.3 125.5,118.3 126.2,118.3 126.9,118.3 127.6,118.3 128.3,118.3 129,118.3 129.7,118.3 130.4,118.3 131.1,118.3 131.8,118.3 132.5,118.3 133.2,118.3 133.9,118.3 134.6,118.3 135.3,118.3 136,118.3 136.7,118.3 137.4,118.3 138.1,118.3 138.8,118.3 139.5,118.3 140.2,118.3 140.9,118.3 141.6,118.2 142.3,118.2 143,118.1 143.7,118 144.4,117.9 145.1,117.8 145.8,117.7 146.5,117.6 147.2,117.5 147.9,117.4 148.6,117.2 149.3,117.1 150,116.9 150.7,116.8 151.4,116.6 152.1,116.5 152.8,116.3 153.5,116.2 154.2,116 154.9,115.8 155.6,115.7 156.3,115.5 157,115.4 157.7,115.2 158.4,115 159.1,114.9 159.8,114.7 160.5,114.5 161.2,114.2 161.9,114 162.6,113.8 163.3,113.6 164,113.3 164.7,113.1 165.4,112.8 166.1,112.6 166.8,112.4 167.5,112.1 168.2,111.9 168.9,111.7 169.6,111.5 170.3,111.2 171,111 171.7,110.8 172.4,110.7 173.1,110.5 173.8,110.3 174.5,110.1 175.2,110 175.9,109.8 176.6,109.6 177.3,109.5 178,109.3 178.7,109.2 179.4,109 180.1,108.9 180.8,108.7 181.5,108.6 182.2,108.4 182.9,108.3 183.6,108.2 184.3,108.1 185,108 185.7,107.9 186.4,107.8 187.1,107.7 187.8,107.6 188.5,107.5 189.2,107.4 189.9,107.3 190.6,107.2 191.3,107.1 192,107.1 192.7,107 193.4,106.9 194.1,106.8 194.8,106.8 195.5,106.7 196.2,106.6 196.9,106.6 197.6,106.6 198.3,106.5 199,106.5 199.7,106.5 200.4,106.5 201.1,106.5 201.8,106.5 202.5,106.6 203.2,106.6 203.9,106.7 204.6,106.7 205.3,106.8 206,106.9 206.7,106.9 207.4,107 208.1,107.1 208.8,107.2 209.5,107.3 210.2,107.4 210.9,107.6 211.6,107.7 212.3,107.8 213,107.9 213.7,108.1 214.4,108.2 215.1,108.3 215.8,108.5 216.5,108.6 217.2,108.8 217.9,109.1 218.6,109.3 219.3,109.6 220,109.8 220.7,110.1 221.4,110.4 222.1,110.7 222.8,111.1 223.5,111.4 224.2,111.7 224.9,112 225.6,112.4 226.3,112.7 227,113 227.7,113.4 228.4,113.7 229.1,114 229.8,114.4 230.5,114.8 231.2,115.2 231.9,115.6 232.6,116 233.3,116.5 234,116.9 234.7,117.3 235.4,117.7 236.1,118.1 236.8,118.5 237.5,118.8 238.2,119.1 238.9,119.4 239.6,119.7 240.3,119.9 241,120.1 241.7,120.3 242.4,120.5 243.1,120.8 243.8,121 244.5,121.2 245.2,121.4 245.9,121.6 246.6,121.7 247.3,121.9 248,122.1 248.7,122.2 249.4,122.4 250.1,122.5 250.8,122.6 251.5,122.7 252.2,122.7 252.9,122.8 253.6,122.8 254.3,122.8 255,122.8 255.7,122.8 256.4,122.8 257.1,122.8 257.8,122.7 258.5,122.7 259.2,122.7 259.9,122.6 260.6,122.6 261.3,122.6 262,122.5 262.7,122.5 263.4,122.4 264.1,122.4 264.8,122.3 265.5,122.2 266.2,122.2 266.9,122.1 267.6,122 268.3,121.9 269,121.7 269.7,121.6 270.4,121.4 271.1,121.2 271.8,121 272.5,120.8 273.2,120.5 273.9,120.3 274.6,120 275.3,119.8 276,119.5 276.7,119.2 277.4,118.9 278.1,118.5 278.8,118.1 279.5,117.7 280.2,117.2 280.9,116.8 281.6,116.3 282.3,115.7 283,115.2 283.7,114.6 284.4,114 285.1,113.4 285.8,112.7 286.5,112 287.2,111.2 287.9,110.3 288.6,109.4 289.3,108.5 290,107.6 290.7,106.7 291.4,105.8 292.1,104.9 292.8,104 293.5,103.2 294.2,102.3 294.9,101.4 295.6,100.5 296.3,99.6 297,98.6 297.7,97.6 298.4,96.5 299.1,95.4 299.8,94.4 300.5,93.3 301.2,92.2 301.9,91.1 302.6,90 303.3,88.9 304,87.8 304.7,86.7 305.4,85.6 306.1,84.5"/><polyline points="75.3,110.8 76,111.3 76.7,111.8 77.4,112.3 78.1,112.7 78.8,113.2 79.5,113.6 80.2,114.1 80.9,114.5 81.6,115 82.3,115.4 83,115.8 83.7,116.2 84.4,116.6 85.1,117 85.8,117.4 86.5,117.8 87.2,118.1 87.9,118.4 88.6,118.6 89.3,118.9 90,119 90.7,119.2 91.4,119.4 92.1,119.5 92.8,119.7 93.5,119.8 94.2,119.9 94.9,120 95.6,120.1 96.3,120.2 97,120.3 97.7,120.5 98.4,120.6 99.1,120.7 99.8,120.8 100.5,120.9 101.2,121 101.9,121.1 102.6,121.2 103.3,121.2 104,121.3 104.7,121.4 105.4,121.4 106.1,121.5 106.8,121.5 107.5,121.5 108.2,121.6 108.9,121.6 109.6,121.6 110.3,121.6 111,121.6 111.7,121.6 112.4,121.6 113.1,121.6 113.8,121.6 114.5,121.6 115.2,121.6 115.9,121.5 116.6,121.5 117.3,121.4 118,121.4 118.7,121.3 119.4,121.2 120.1,121.1 120.8,121.1 121.5,121 122.2,120.9 122.9,120.8 123.6,120.8 124.3,120.7 125,120.6 125.7,120.5 126.4,120.4 127.1,120.3 127.8,120.2 128.5,120.1 129.2,120 129.9,119.9 130.6,119.8 131.3,119.6 132,119.5 132.7,119.4 133.4,119.2 134.1,119 134.8,118.9 135.5,118.7 136.2,118.5 136.9,118.3 137.6,118.1 138.3,117.9 139,117.7 139.7,117.5 140.4,117.2 141.1,117 141.8,116.7 142.5,116.3 143.2,116 143.9,115.7 144.6,115.4 145.3,115.1 146,114.7 146.7,114.4 147.4,114.1 148.1,113.8 148.8,113.4 149.5,113.1 150.2,112.8 150.9,112.5 151.6,112.2 152.3,111.9 153,111.6 153.7,111.3 154.4,111 155.1,110.8 155.8,110.5 156.5,110.2 157.2,109.9 157.9,109.6 158.6,109.3 159.3,108.9 160,108.6 160.7,108.3 161.4,108 162.1,107.7 162.8,107.4 163.5,107.1 164.2,106.8 164.9,106.5 165.6,106.2 166.3,105.9 167,105.6 167.7,105.2 168.4,104.9 169.1,104.6 169.8,104.2 170.5,103.9 171.2,103.6 171.9,103.3 172.6,103 173.3,102.7 174,102.4 174.7,102 175.4,101.6 176.1,101.3 176.8,100.9 177.5,100.6 178.2,100.3 178.9,100.1 179.6,99.8 180.3,99.6 181,99.3 181.7,99.1 182.4,98.9 183.1,98.7 183.8,98.5 184.5,98.2 185.2,98 185.9,97.8 186.6,97.6 187.3,97.3 188,97.1 188.7,96.9 189.4,96.7 190.1,96.5 190.8,96.3 191.5,96 192.2,95.8 192.9,95.6 193.6,95.4 194.3,95.2 195,95 195.7,94.8 196.4,94.6 197.1,94.4 197.8,94.2 198.5,94.1 199.2,94 199.9,93.8 200.6,93.7 201.3,93.6 202,93.4 202.7,93.3 203.4,93.2 204.1,93.1 204.8,93 205.5,93 206.2,92.9 206.9,92.8 207.6,92.7 208.3,92.7 209,92.6 209.7,92.5 210.4,92.4 211.1,92.4 211.8,92.3 212.5,92.3 213.2,92.2 213.9,92.2 214.6,92.2 215.3,92.2 216,92.2 216.7,92.2 217.4,92.2 218.1,92.2 218.8,92.2 219.5,92.2 220.2,92.2 220.9,92.3 221.6,92.3 222.3,92.3 223,92.3 223.7,92.3 224.4,92.4 225.1,92.4 225.8,92.5 226.5,92.6 227.2,92.7 227.9,92.7 228.6,92.8 229.3,92.9 230,92.9 230.7,93 231.4,93 232.1,93 232.8,93.1 233.5,93.1 234.2,93.1 234.9,93.1 235.6,93.1 236.3,93.2 237,93.2 237.7,93.2 238.4,93.2 239.1,93.2 239.8,93.2 240.5,93.2 241.2,93.2 241.9,93.1 242.6,93.1 243.3,93 244,92.9 244.7,92.8 245.4,92.8 246.1,92.6 246.8,92.5 247.5,92.4 248.2,92.2 248.9,92.1 249.6,91.9 250.3,91.7 251,91.6 251.7,91.4 252.4,91.2 253.1,91 253.8,90.8 254.5,90.6 255.2,90.4 255.9,90.2 256.6,90 257.3,89.7 258,89.5 258.7,89.2 259.4,89 260.1,88.7 260.8,88.4 261.5,88 262.2,87.7 262.9,87.4 263.6,87 264.3,86.7 265,86.3 265.7,85.9 266.4,85.6 267.1,85.2 267.8,84.8 268.5,84.4 269.2,84 269.9,83.5 270.6,83.1 271.3,82.5 272,82 272.7,81.4 273.4,80.6 274.1,79.8 274.8,79 275.5,78.2 276.2,77.4 276.9,76.7 277.6,75.9 278.3,75.2 279,74.5 279.7,73.8 280.4,73.1 281.1,72.4 281.8,71.6 282.5,70.8 283.2,69.9 283.9,69.1 284.6,68.2 285.3,67.3 286,66.5 286.7,65.6 287.4,64.8 288.1,64.1 288.8,63.3 289.5,62.6 290.2,61.9 290.9,61.2 291.6,60.4 292.3,59.7 293,58.9 293.7,58.2 294.4,57.4 295.1,56.6 295.8,55.8 296.5,54.9 297.2,54.1 297.9,53.2 298.6,52.4 299.3,51.5 300,50.6 300.7,49.7 301.4,48.8 302.1,47.8 302.8,46.8 303.5,45.8 304.2,44.7 304.9,43.6 305.6,42.5"/>
</g>
<path d="M414 210.3L431.5 187" stroke="#000" stroke-width="5" stroke-linecap="round"/>
<g fill="#000">
<circle cx="413.8" cy="210.8" r="3.5"/>
<circle cx="414.2" cy="209.5" r="3.5"/>
<circle cx="415" cy="207.8" r="3.5"/>
<circle cx="416.3" cy="205.7" r="3.5"/>
<circle cx="418" cy="203.3" r="3.5"/>
<circle cx="420" cy="200.5" r="3.5"/>
<circle cx="422.3" cy="197.5" r="3.5"/>
<circle cx="425" cy="194" r="3.5"/>
<circle cx="428" cy="190.3" r="3.5"/>
<circle cx="431.5" cy="186.3" r="3.5"/>
<circle cx="435.9" cy="181.6" r="3.5"/>
<circle cx="440.3" cy="176.8" r="3.5"/>
<circle cx="446" cy="171.1" r="3.5"/>
<circle cx="453.3" cy="165" r="3.5"/>
<circle cx="461.5" cy="158.5" r="3.5"/>
<circle cx="471" cy="151" r="3.5"/>
<circle cx="480.7" cy="143.3" r="3.5"/>
<circle cx="493.3" cy="133.8" r="3.5"/>
<circle cx="507.6" cy="123.5" r="3.5"/>
<circle cx="526.3" cy="113.5" r="3.5"/>
<circle cx="544.8" cy="99.7" r="3.5"/>
<circle cx="565.7" cy="86.1" r="3.5"/>
<circle cx="592.5" cy="71.2" r="3.5"/>
<circle cx="622.1" cy="54.6" r="3.5"/>
<circle cx="656.4" cy="37.5" r="3.5"/>
<circle cx="433.3" cy="185" r="3.1" fill="#fff" stroke="#000" stroke-width="0.7"/>
<circle cx="437.7" cy="180.3" r="3.1" fill="#fff" stroke="#000" stroke-width="0.7"/>
<circle cx="442.1" cy="175.5" r="3.1" fill="#fff" stroke="#000" stroke-width="0.7"/>
<circle cx="447.8" cy="169.8" r="3.1" fill="#fff" stroke="#000" stroke-width="0.7"/>
<circle cx="455.1" cy="163.7" r="3.1" fill="#fff" stroke="#000" stroke-width="0.7"/>
<circle cx="463.3" cy="157.2" r="3.1" fill="#fff" stroke="#000" stroke-width="0.7"/>
<circle cx="472.8" cy="149.7" r="3.1" fill="#fff" stroke="#000" stroke-width="0.7"/>
<circle cx="486.7" cy="142.5" r="3.1" fill="#fff" stroke="#000" stroke-width="0.7"/>
<circle cx="501.2" cy="133.8" r="3.1" fill="#fff" stroke="#000" stroke-width="0.7"/>
<circle cx="516.5" cy="122.5" r="3.1" fill="#fff" stroke="#000" stroke-width="0.7"/>
<circle cx="534.6" cy="112.3" r="3.1" fill="#fff" stroke="#000" stroke-width="0.7"/>
<circle cx="557" cy="103" r="3.1" fill="#fff" stroke="#000" stroke-width="0.7"/>
<circle cx="584.5" cy="91.8" r="3.1" fill="#fff" stroke="#000" stroke-width="0.7"/>
<path d="M411.2 207.9H417.8L414.5 213.6Z"/>
<path d="M413.2 205.6H419.8L416.5 211.3Z"/>
<path d="M415.2 203.1H421.8L418.5 208.8Z"/>
<path d="M417.2 200.7H423.8L420.5 206.4Z"/>
<path d="M419.2 198.1H425.8L422.5 203.8Z"/>
<path d="M421.2 195.3H427.8L424.5 201Z"/>
<path d="M423.2 192.6H429.8L426.5 198.3Z"/>
<path d="M425.4 189.6H431.9L428.7 195.3Z"/>
<path d="M427.8 186.6H434.2L431 192.3Z"/>
</g>
<g fill="none" stroke="#000" stroke-width="1.1">
<polyline points="413.7,211.1 414.6,209.9 415.6,208.8 416.5,207.6 417.4,206.4 418.4,205.3 419.3,204.1 420.2,202.9 421.2,201.8 422.1,200.6 423,199.4 424,198.3 424.9,197.1 425.9,195.9 426.8,194.8 427.7,193.6 428.6,192.4 429.5,191.2 430.5,190 431.4,188.8 432.3,187.7 433.2,186.5 434.2,185.3 435.1,184.1 436.1,183 437,181.9 438,180.7 439,179.6 440,178.5 441,177.4 442,176.4 443.1,175.3 444.1,174.2 445.2,173.2 446.3,172.1 447.3,171.1 448.4,170.1 449.5,169.1 450.6,168.1 451.8,167 452.9,166 454,165 455.1,164 456.2,163.1 457.4,162.1 458.5,161.1 459.6,160.1 460.8,159.1 461.9,158.2 463,157.2 464.2,156.2 465.3,155.3 466.5,154.3 467.6,153.4 468.8,152.5 470,151.5 471.1,150.6 472.3,149.7 473.5,148.7 474.7,147.8 475.9,146.9 477.1,146 478.3,145.1 479.5,144.2 480.7,143.3 481.9,142.4 483.1,141.6 484.3,140.7 485.5,139.8 486.7,139 487.9,138.1 489.2,137.3 490.4,136.4 491.6,135.6 492.9,134.7 494.1,133.9 495.4,133.1 496.6,132.2 497.9,131.4 499.1,130.6 500.4,129.8 501.6,128.9 502.9,128.1 504.1,127.3 505.4,126.5 506.7,125.7 507.9,124.9 509.2,124.2 510.5,123.4 511.7,122.6 513,121.8 514.3,121 515.6,120.2 516.8,119.5 518.1,118.7 519.4,117.9 520.7,117.1 521.9,116.3 523.2,115.5 524.5,114.7 525.7,113.9 527,113.1 528.3,112.3 529.5,111.5 530.8,110.7 532.1,109.9 533.3,109.2 534.6,108.4 535.9,107.6 537.1,106.8 538.4,106 539.7,105.2 541,104.4 542.2,103.7 543.5,102.9 544.8,102.1 546.1,101.4 547.4,100.6 548.7,99.8 549.9,99.1 551.2,98.3 552.5,97.5 553.8,96.8 555.1,96 556.4,95.3 557.7,94.5 559,93.8 560.3,93 561.6,92.3 562.9,91.6 564.2,90.8 565.5,90.1 566.8,89.3 568.1,88.6 569.4,87.9 570.7,87.1 572,86.4 573.3,85.7 574.6,84.9 575.9,84.2 577.2,83.5 578.5,82.7 579.8,82 581.1,81.3 582.4,80.5 583.7,79.8 585,79.1 586.3,78.4 587.6,77.6 589,76.9 590.3,76.2 591.6,75.5 592.9,74.8 594.2,74.1 595.5,73.4 596.8,72.7 598.2,72 599.5,71.3 600.8,70.6 602.1,69.9 603.5,69.2 604.8,68.5 606.2,67.9 607.5,67.2 608.8,66.6 610.2,65.9 611.5,65.3 612.9,64.6 614.2,63.9 615.6,63.3 616.9,62.6 618.2,62 619.6,61.3 620.9,60.6 622.3,59.9 623.6,59.3 624.9,58.6 626.2,57.8 627.5,57.1 628.8,56.4 630.2,55.7 631.5,55 632.8,54.3 634.1,53.5 635.4,52.8 636.7,52.1 638,51.3 639.3,50.6 640.6,49.8 641.9,49.1 643.1,48.3 644.4,47.5 645.7,46.8 647,46"/><polyline points="413.7,211.1 414.7,210 415.6,208.8 416.6,207.7 417.6,206.6 418.6,205.5 419.5,204.3 420.5,203.2 421.5,202.1 422.5,200.9 423.4,199.8 424.4,198.7 425.4,197.6 426.3,196.4 427.3,195.3 428.3,194.1 429.2,193 430.2,191.8 431.1,190.7 432.1,189.5 433,188.4 434,187.2 434.9,186.1 435.9,185 436.9,183.9 437.9,182.8 438.9,181.7 439.9,180.6 440.9,179.5 442,178.5 443,177.4 444.1,176.4 445.2,175.3 446.2,174.3 447.3,173.3 448.4,172.2 449.5,171.2 450.6,170.2 451.7,169.2 452.8,168.2 453.9,167.2 455.1,166.2 456.2,165.3 457.3,164.3 458.4,163.3 459.6,162.4 460.7,161.4 461.9,160.4 463,159.5 464.2,158.5 465.3,157.6 466.5,156.7 467.6,155.7 468.8,154.8 470,153.9 471.2,153 472.4,152.1 473.6,151.2 474.8,150.3 476,149.4 477.2,148.5 478.4,147.7 479.6,146.8 480.8,145.9 482,145.1 483.2,144.3 484.5,143.4 485.7,142.6 486.9,141.8 488.2,141 489.4,140.1 490.7,139.3 492,138.5 493.2,137.7 494.5,136.9 495.7,136.2 497,135.4 498.3,134.6 499.5,133.8 500.8,133 502.1,132.2 503.3,131.4 504.6,130.6 505.9,129.9 507.1,129.1 508.4,128.3 509.7,127.5 511,126.8 512.2,126 513.5,125.2 514.8,124.5 516.1,123.7 517.4,123 518.7,122.2 520,121.5 521.3,120.8 522.6,120.1 523.9,119.3 525.2,118.6 526.5,117.9 527.8,117.2 529.1,116.5 530.4,115.8 531.8,115.1 533.1,114.5 534.4,113.8 535.8,113.1 537.1,112.5 538.4,111.8 539.8,111.2 541.1,110.6 542.5,109.9 543.8,109.3 545.2,108.7 546.6,108.1 547.9,107.5 549.3,106.9 550.6,106.3 552,105.7 553.4,105.1 554.7,104.5 556.1,103.9 557.5,103.3 558.8,102.7 560.2,102.1 561.6,101.6 563,101 564.3,100.4 565.7,99.9 567.1,99.3 568.5,98.7 569.9,98.2 571.3,97.6 572.6,97.1 574,96.6 575.4,96 576.8,95.5 578.2,94.9 579.6,94.4 581,93.9"/>
</g>
<!-- legend A -->
<rect x="214.5" y="25.5" width="54.5" height="46.5" fill="#fff" stroke="#8c8c8c" stroke-width="0.9"/>
<g fill="#111" font-size="7">
<text x="239.5" y="38">50 mV</text><text x="239.5" y="46.8">75 mV</text><text x="239.5" y="56.3">100 mV</text><text x="239.5" y="65.4">Fitting</text>
</g>
<circle cx="227.6" cy="35.4" r="2.1" fill="#000"/>
<circle cx="227.6" cy="44.2" r="1.8" fill="#fff" stroke="#000" stroke-width="0.8"/>
<path d="M225.2 52.3H230L227.6 56.2Z" fill="#000"/>
<path d="M218.8 62.8H235.4" stroke="#000" stroke-width="0.9"/>
<!-- legend B -->
<rect x="420.5" y="35.5" width="56.7" height="48.7" fill="#fff" stroke="#555" stroke-width="0.9"/>
<g fill="#111" font-size="7">
<text x="446" y="48">50 mV</text><text x="446" y="57.2">75 mV</text><text x="446" y="67.8">100 mV</text><text x="446" y="77">Fitting</text>
</g>
<circle cx="433.5" cy="45.3" r="2.75" fill="#000"/>
<circle cx="433.5" cy="55.3" r="2.4" fill="#fff" stroke="#000" stroke-width="0.75"/>
<path d="M430.4 63.2H436.6L433.5 68.4Z" fill="#000"/>
<path d="M425 74.4H442.3" stroke="#000" stroke-width="1"/>
<!-- labels -->
<g fill="#0a0a0a" font-size="9.8">
<text transform="translate(172,44) scale(1,1.1)">A</text>
<text transform="translate(538,41.8) scale(1,1.1)">B</text>
<text x="159" y="238.2">log f/ Hz</text>
<text transform="translate(12,158) rotate(-90)">log IZI/ kOhm.cm<tspan font-size="6.5" dy="-4.2">2</tspan></text>
<text transform="translate(347.4,168.7) rotate(-90)">Phase angle, θ/ degree</text>
<text transform="translate(379.6,160) rotate(-90)">-Z<tspan font-size="7.4" dy="2.7" font-weight="normal">imag</tspan><tspan dy="-2.7">/ kOhm.cm</tspan><tspan font-size="6.5" dy="-3.5">2</tspan></text>
<text x="504.6" y="245.4">Z<tspan font-size="6.8" dy="3" font-weight="normal">Real</tspan><tspan dy="-3">/ kOhm.cm</tspan><tspan font-size="6.5" dy="-4">2</tspan></text>
</g>
<!-- circuit -->
<g id="circ"><path d="M577.2 136.3V180.4M600.4 136.3V180.4M611.3 136.1V180.3M634.8 136.1V180.3M600.4 158.3H611.3" fill="none" stroke="#666" stroke-width="0.8"/>
<path d="M555 158.3H577.2M634.8 158.3H656" fill="none" stroke="#111" stroke-width="1.1"/>
<rect x="558" y="152.4" width="12.9" height="14.8" rx="0.8" fill="#f3f3f3" stroke="#a0a0a0" stroke-width="0.6"/>
<rect x="558" y="152.4" width="12.9" height="8" rx="0.8" fill="#b4b4b4" stroke="#969696" stroke-width="0.5"/>
<text x="564.45" y="165.1" font-size="3.6" font-weight="normal" text-anchor="middle" fill="#444">Rs</text>
<path d="M559 166.9H569.9" stroke="#888" stroke-width="0.6"/>
<path d="M559.5 158.3L560.5 156.5L561.82 160.1L563.13 156.5L564.45 160.1L565.77 156.5L567.08 160.1L568.4 156.5L569.4 158.3" fill="none" stroke="#111" stroke-width="0.9"/>
<rect x="583.2" y="130.4" width="12.7" height="20.5" rx="0.8" fill="#f3f3f3" stroke="#a0a0a0" stroke-width="0.6"/>
<rect x="583.2" y="130.4" width="12.7" height="9.4" rx="0.8" fill="#b4b4b4" stroke="#969696" stroke-width="0.5"/>
<text x="589.55" y="143.88" font-size="3.6" font-weight="normal" text-anchor="middle" fill="#444">CPE1</text>
<path d="M584.4 145.35H594.7" stroke="#aaa" stroke-width="0.5"/>
<text x="589.55" y="149.43" font-size="3.6" font-weight="normal" text-anchor="middle" fill="#444">n</text>
<path d="M584.2 150.6H594.9" stroke="#888" stroke-width="0.6"/>
<ellipse cx="589.55" cy="135.7" rx="1.6" ry="2.5" fill="none" stroke="#111" stroke-width="1"/>
<path d="M587.65 138.6L591.45 132.8" stroke="#111" stroke-width="0.9"/>
<rect x="583.2" y="175.1" width="12.8" height="14.7" rx="0.8" fill="#f3f3f3" stroke="#a0a0a0" stroke-width="0.6"/>
<rect x="583.2" y="175.1" width="12.8" height="8.9" rx="0.8" fill="#b4b4b4" stroke="#969696" stroke-width="0.5"/>
<text x="589.6" y="188.2" font-size="3.6" font-weight="normal" text-anchor="middle" fill="#444">R1</text>
<path d="M584.2 189.5H595" stroke="#888" stroke-width="0.6"/>
<path d="M584.7 180.4L585.7 178.6L587 182.2L588.3 178.6L589.6 182.2L590.9 178.6L592.2 182.2L593.5 178.6L594.5 180.4" fill="none" stroke="#111" stroke-width="0.9"/>
<rect x="617.6" y="130.4" width="12.2" height="20.2" rx="0.8" fill="#f3f3f3" stroke="#a0a0a0" stroke-width="0.6"/>
<rect x="617.6" y="130.4" width="12.2" height="9.4" rx="0.8" fill="#b4b4b4" stroke="#969696" stroke-width="0.5"/>
<text x="623.7" y="143.8" font-size="3.6" font-weight="normal" text-anchor="middle" fill="#444">CPE2</text>
<path d="M618.8 145.2H628.6" stroke="#aaa" stroke-width="0.5"/>
<text x="623.7" y="149.2" font-size="3.6" font-weight="normal" text-anchor="middle" fill="#444">n</text>
<path d="M618.6 150.3H628.8" stroke="#888" stroke-width="0.6"/>
<ellipse cx="623.7" cy="135.5" rx="1.6" ry="2.5" fill="none" stroke="#111" stroke-width="1"/>
<path d="M621.8 138.4L625.6 132.6" stroke="#111" stroke-width="0.9"/>
<rect x="617.6" y="174.9" width="12.2" height="14.4" rx="0.8" fill="#f3f3f3" stroke="#a0a0a0" stroke-width="0.6"/>
<rect x="617.6" y="174.9" width="12.2" height="8.9" rx="0.8" fill="#b4b4b4" stroke="#969696" stroke-width="0.5"/>
<text x="623.7" y="187.85" font-size="3.6" font-weight="normal" text-anchor="middle" fill="#444">R2</text>
<path d="M618.6 189H628.8" stroke="#888" stroke-width="0.6"/>
<path d="M619.1 180.3L620.1 178.5L621.3 182.1L622.5 178.5L623.7 182.1L624.9 178.5L626.1 182.1L627.3 178.5L628.3 180.3" fill="none" stroke="#111" stroke-width="0.9"/>
<rect x="639.3" y="152.2" width="12.9" height="14.6" rx="0.8" fill="#f3f3f3" stroke="#a0a0a0" stroke-width="0.6"/>
<rect x="639.3" y="152.2" width="12.9" height="9.3" rx="0.8" fill="#b4b4b4" stroke="#969696" stroke-width="0.5"/>
<text x="645.75" y="165.45" font-size="3.6" font-weight="normal" text-anchor="middle" fill="#444">W</text>
<path d="M640.3 166.5H651.2" stroke="#888" stroke-width="0.6"/>
<path d="M643.15 156.8L644.45 161.1L645.75 157.8L647.05 161.1L648.35 156.8" fill="none" stroke="#222" stroke-width="0.8"/>
<circle cx="642.45" cy="155" r="0.55" fill="#222"/><circle cx="649.05" cy="155" r="0.55" fill="#222"/>
<path d="M555 158.3H577.2M634.8 158.3H656" fill="none" stroke="#111" stroke-width="1.1"/>
<path d="M577.2 136.3H600.4M577.2 180.4H600.4M611.3 136.1H634.8M611.3 180.3H634.8" fill="none" stroke="#222" stroke-width="1"/>
<circle cx="605.8" cy="158.3" r="0.7" fill="#333"/></g>
</svg>
</body></html>
